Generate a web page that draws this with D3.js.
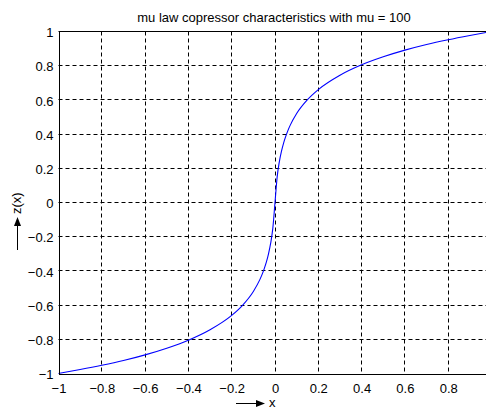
<!DOCTYPE html>
<html>
<head>
<meta charset="utf-8">
<script src="https://cdn.jsdelivr.net/npm/d3@7"></script>
<style>
  body { margin: 0; background: #fff; overflow: hidden; }
  text { font-family: "Liberation Sans", Arial, sans-serif; font-size: 13px; fill: #000; }
</style>
</head>
<body>
<script>
// values
let xVals = [-1, -0.9, -0.8, -0.7, -0.6, -0.5, -0.4, -0.3, -0.2, -0.15, -0.1, -0.07, -0.06, -0.05, -0.04, -0.03, -0.02, -0.01,
  0, 0.01, 0.02, 0.03, 0.04, 0.05, 0.06, 0.07, 0.1, 0.15, 0.2, 0.3, 0.4, 0.5, 0.6, 0.7, 0.8, 0.9, 0.99];
let zVals = [-1, -0.977, -0.952, -0.924, -0.891, -0.852, -0.805, -0.744, -0.66, -0.601, -0.52, -0.451, -0.422, -0.388, -0.349, -0.30, -0.238, -0.15,
  0, 0.15, 0.238, 0.30, 0.349, 0.388, 0.422, 0.451, 0.52, 0.601, 0.66, 0.744, 0.805, 0.852, 0.891, 0.924, 0.952, 0.977, 0.998];
let xTicks = [-1, -0.8, -0.6, -0.4, -0.2, 0, 0.2, 0.4, 0.6, 0.8];
let yTicks = [-1, -0.8, -0.6, -0.4, -0.2, 0, 0.2, 0.4, 0.6, 0.8, 1];
let title = "mu law copressor characteristics with mu = 100";

let W = 486, H = 409;
let margin = { top: 31.5, left: 58.5 },
  width = 433,
  height = 342;

let svg = d3.select("body").append("svg")
  .attr("width", W)
  .attr("height", H);

let g = svg.append("g")
  .attr("transform", "translate(" + margin.left + "," + margin.top + ")");

let x = d3.scaleLinear().domain([-1, 1]).range([0, width]);
let y = d3.scaleLinear().domain([-1, 1]).range([height, 0]);

// grid
g.append("g")
  .selectAll("line")
  .data(xTicks.filter(t => t !== -1))
  .enter().append("line")
  .attr("x1", d => Math.round(x(d)))
  .attr("x2", d => Math.round(x(d)))
  .attr("y1", 0)
  .attr("y2", height)
  .attr("stroke", "#000")
  .attr("stroke-dasharray", "4,3");

g.append("g")
  .selectAll("line")
  .data(yTicks.filter(t => t !== -1 && t !== 1))
  .enter().append("line")
  .attr("y1", d => Math.round(y(d)))
  .attr("y2", d => Math.round(y(d)))
  .attr("x1", 0)
  .attr("x2", width)
  .attr("stroke", "#000")
  .attr("stroke-dasharray", "4,3");

// curve
g.append("path")
  .datum(xVals.map((v, i) => [v, zVals[i]]))
  .attr("fill", "none")
  .attr("stroke", "#0000ff")
  .attr("stroke-width", 1.1)
  .attr("d", d3.line()
    .x(d => x(d[0]))
    .y(d => y(d[1]))
    .curve(d3.curveMonotoneX));

// axes
g.append("g")
  .attr("transform", "translate(0," + height + ")")
  .call(d3.axisBottom(x)
    .tickValues(xTicks)
    .tickSize(0)
    .tickPadding(10)
    .tickFormat(d => d3.format("")(d)))
  .call(a => a.select(".domain").attr("stroke", "#000").attr("shape-rendering", "crispEdges"))
  .call(a => a.selectAll("text").attr("font-size", 13).attr("font-family", null));

g.append("g")
  .call(d3.axisLeft(y)
    .tickValues(yTicks)
    .tickSize(0)
    .tickPadding(5)
    .tickFormat(d => d3.format("")(d)))
  .call(a => a.select(".domain").attr("stroke", "#000").attr("shape-rendering", "crispEdges"))
  .call(a => a.selectAll("text").attr("font-size", 13).attr("font-family", null).attr("dy", "0.4em"));

// top border
g.append("line")
  .attr("x1", 0).attr("x2", width)
  .attr("y1", 0).attr("y2", 0)
  .attr("stroke", "#000");

// title
svg.append("text")
  .attr("x", margin.left + width / 2 - 1)
  .attr("y", 22)
  .attr("text-anchor", "middle")
  .text(title);

// x label with arrow
svg.append("line")
  .attr("x1", 236).attr("x2", 258)
  .attr("y1", 403.5).attr("y2", 403.5)
  .attr("stroke", "#000");
svg.append("path")
  .attr("d", "M256,400 L265,403.5 L256,407 Z")
  .attr("fill", "#000");
svg.append("text")
  .attr("x", 269)
  .attr("y", 407)
  .text("x");

// y label with arrow
svg.append("line")
  .attr("x1", 17.5).attr("x2", 17.5)
  .attr("y1", 250).attr("y2", 225)
  .attr("stroke", "#000");
svg.append("path")
  .attr("d", "M14,226 L17.5,217 L21,226 Z")
  .attr("fill", "#000");
svg.append("text")
  .attr("transform", "translate(21,214) rotate(-90)")
  .text("z(x)");
</script>
</body>
</html>
